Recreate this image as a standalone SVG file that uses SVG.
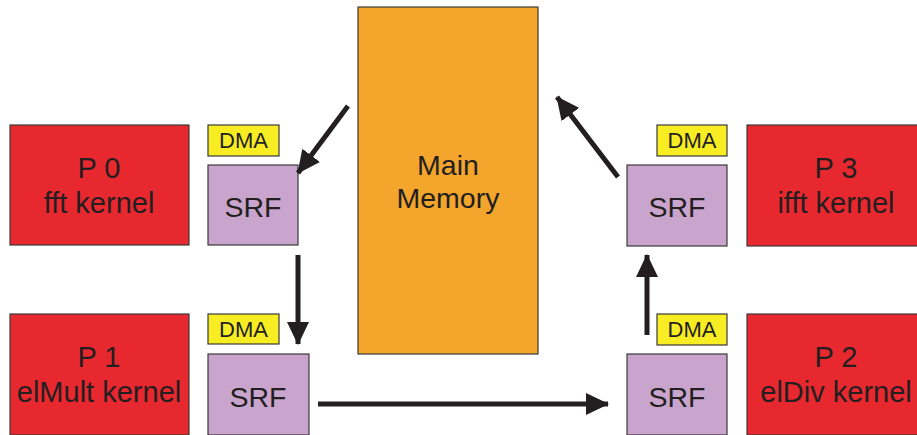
<svg xmlns="http://www.w3.org/2000/svg" width="917" height="435" viewBox="0 0 917 435">
<style>
text{font-family:"Liberation Sans",Arial,sans-serif;fill:#231f20;text-anchor:middle}
.p{fill:#e8282f;stroke:#3a3a3a;stroke-width:1.2}
.s{fill:#c9a5cd;stroke:#3a3a3a;stroke-width:1.2}
.d{fill:#f8ec22;stroke:#3a3a3a;stroke-width:1.2}
.m{fill:#f3a52c;stroke:#3a3a3a;stroke-width:1.2}
.big{font-size:29px}
.srf{font-size:28.5px}
.dma{font-size:22px}
.c{stroke:#231f20;stroke-width:5;fill:none;marker-end:url(#ah)}
</style>
<defs>
<marker id="ah" markerUnits="userSpaceOnUse" markerWidth="24" markerHeight="24" refX="22" refY="12" orient="auto" viewBox="0 0 24 24">
<path d="M0,1 L23,12 L0,23 Z" fill="#231f20"/>
</marker>
</defs>
<rect width="917" height="435" fill="#fff"/>
<g id="memory"><rect class="m" x="358" y="7" width="180" height="347"/><text class="srf" x="448" y="175">Main</text><text class="srf" x="448" y="208">Memory</text></g>
<g id="p0"><rect class="p" x="10" y="125" width="179" height="120"/><text class="big" x="99" y="178">P 0</text><text class="big" x="99" y="213">fft kernel</text></g>
<g id="dma0"><rect class="d" x="208" y="125" width="71" height="31"/><text class="dma" x="243.5" y="148">DMA</text></g>
<g id="srf0"><rect class="s" x="208" y="165" width="90" height="80"/><text class="srf" x="253" y="217">SRF</text></g>
<g id="p1"><rect class="p" x="10" y="314" width="179" height="121"/><text class="big" x="99" y="367">P 1</text><text class="big" x="99" y="402">elMult kernel</text></g>
<g id="dma1"><rect class="d" x="208" y="314" width="71" height="30"/><text class="dma" x="243.5" y="337">DMA</text></g>
<g id="srf1"><rect class="s" x="208" y="354" width="101" height="81"/><text class="srf" x="258" y="407">SRF</text></g>
<g id="p3"><rect class="p" x="747" y="125" width="180" height="121"/><text class="big" x="836" y="178">P 3</text><text class="big" x="836" y="213">ifft kernel</text></g>
<g id="dma3"><rect class="d" x="657" y="125" width="70" height="31"/><text class="dma" x="692" y="148">DMA</text></g>
<g id="srf3"><rect class="s" x="627" y="165" width="100" height="81"/><text class="srf" x="677" y="217">SRF</text></g>
<g id="p2"><rect class="p" x="747" y="314" width="180" height="121"/><text class="big" x="836" y="367">P 2</text><text class="big" x="836" y="402">elDiv kernel</text></g>
<g id="dma2"><rect class="d" x="657" y="314" width="70" height="31"/><text class="dma" x="692" y="337">DMA</text></g>
<g id="srf2"><rect class="s" x="627" y="354" width="100" height="81"/><text class="srf" x="677" y="407">SRF</text></g>
<g id="connectors">
<path class="c" d="M348,106 L298,173"/>
<path class="c" d="M298,255 L298,344"/>
<path class="c" d="M318,404 L608,404"/>
<path class="c" d="M647,335 L647,255"/>
<path class="c" d="M618,177 L557,97"/>
</g>
</svg>
